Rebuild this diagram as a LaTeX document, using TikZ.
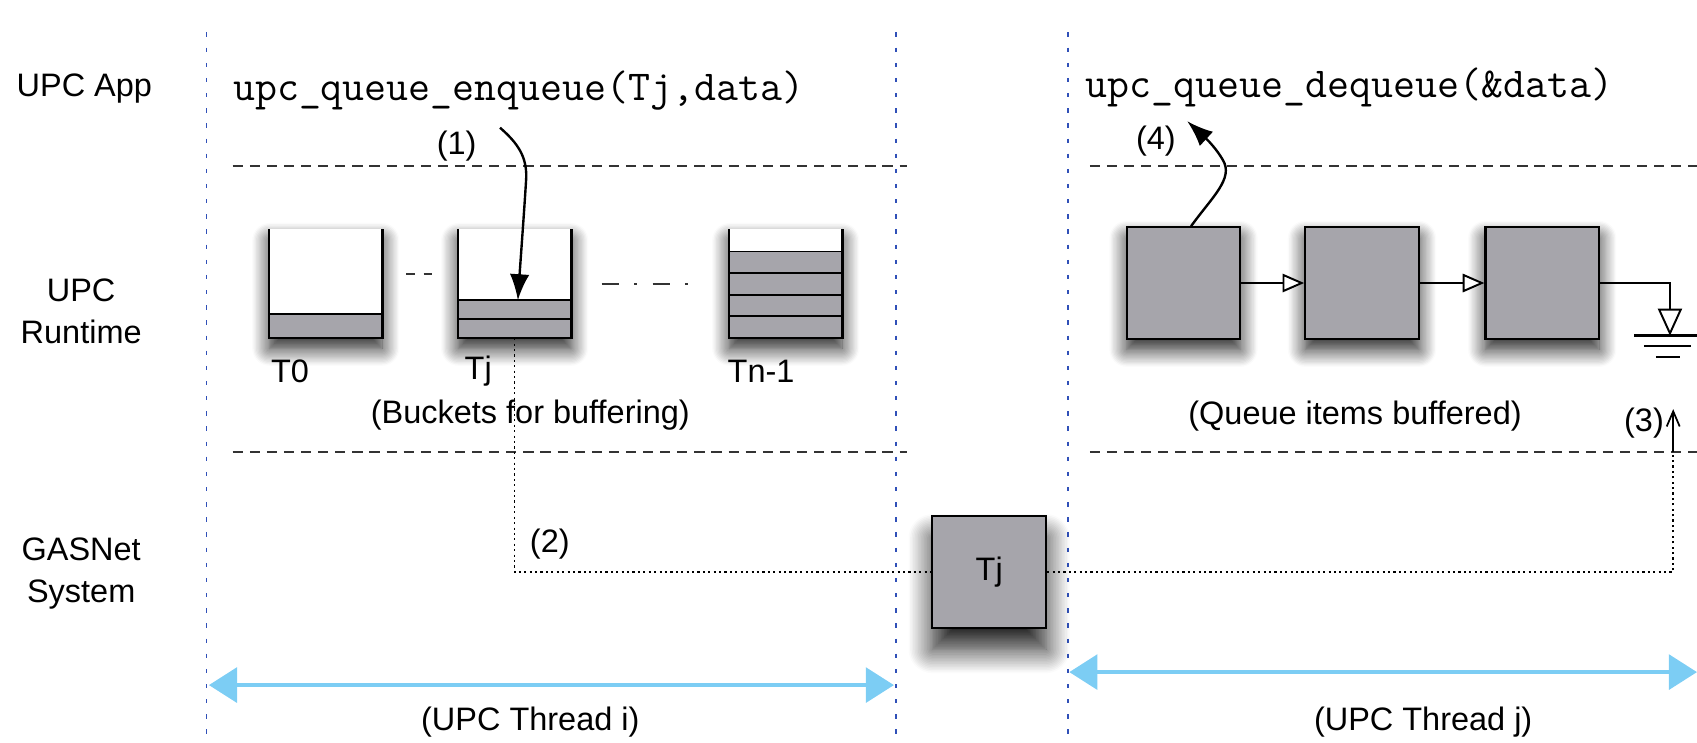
\documentclass[tikz,border=0pt]{standalone}
\usepackage{fontspec}
\setmainfont{Liberation Sans}
\usetikzlibrary{arrows.meta,shadows.blur,calc}
\definecolor{boxgray}{HTML}{A6A5AB}
\definecolor{threadblue}{HTML}{7CCDF4}
\definecolor{sepblue}{HTML}{3050B8}
\begin{document}
\begin{tikzpicture}[x=0.5pt,y=-0.5pt,
  lbl/.style={font=\fontsize{15}{19.5}\selectfont, inner sep=0pt},
  code/.style={font=\ttfamily\fontsize{19.7}{20}\selectfont, inner sep=0pt, anchor=west},
  sep/.style={sepblue, line width=0.7pt, dash pattern=on 2pt off 5pt},
  layer/.style={black!80, line width=1pt, dash pattern=on 4.7pt off 3.2pt},
  shade/.style={blur shadow={shadow xshift=0pt, shadow yshift=-5pt, shadow blur radius=8pt, shadow blur steps=14, shadow opacity=90}},
  bigshade/.style={blur shadow={shadow xshift=0pt, shadow yshift=-10pt, shadow blur radius=11pt, shadow blur steps=16, shadow opacity=90}},
  bucket/.style={minimum width=52pt, minimum height=50pt, inner sep=0pt, fill=white, shade},
  qbox/.style={draw, line width=1pt, fill=boxgray, minimum width=52.5pt, minimum height=51.5pt, inner sep=0pt},
  item/.style={draw, line width=0.9pt, fill=boxgray},
  wall/.style={line width=1.1pt},
  bigarrow/.style={-{Latex[length=12pt,width=9pt]}, line width=1.1pt},
  thread/.style={threadblue, line width=2pt, {Triangle[length=13pt,width=16pt]}-{Triangle[length=13pt,width=16pt]}},
  path2/.style={line width=0.8pt, dash pattern=on 1pt off 1.5pt},
  qarrow/.style={line width=0.9pt, -{Triangle[open,length=10pt,width=8.5pt,fill=white]}},
]
\useasboundingbox (0,0) rectangle (1568,686);

% separators
\draw[sep] (191,30) -- (191,686);
\draw[sep] (828,30) -- (828,686);
\draw[sep] (987,30) -- (987,686);

% layer lines
\draw[layer] (215,153) -- (838,153);
\draw[layer] (1007,153) -- (1568,153);
\draw[layer] (215,418) -- (838,418);
\draw[layer] (1007,418) -- (1568,418);

% row labels
\node[lbl, anchor=west] (app) at (15,82) {UPC App};
\node[lbl, align=center] (rt) at (75,288) {UPC\\Runtime};
\node[lbl, align=center] (gas) at (75,530) {GASNet\\System};

% code
\node[code] (enq) at (215,84) {upc\_queue\_enqueue(Tj,data)};
\node[code] (deq) at (1003,81) {upc\_queue\_dequeue(\&data)};

% buckets
\node[bucket] (b0) at (301,262) {};
\node[bucket] (bj) at (475.5,262) {};
\node[bucket] (bn) at (726,262) {};

\draw[item] (b0.south west) rectangle ($(b0.south east)+(0,-22)$);
\draw[item] (bj.south west) rectangle ($(bj.south east)+(0,-17.5)$);
\draw[item] ($(bj.south west)+(0,-17.5)$) rectangle ($(bj.south east)+(0,-35)$);
\foreach \k in {0,1,2,3}{
  \draw[item] ($(bn.south west)+(0,-20*\k)$) rectangle ($(bn.south east)+(0,-20*\k-20)$);
}
\foreach \b in {b0,bj,bn}{
  \draw[wall] (\b.north west) -- (\b.south west) -- (\b.south east) -- (\b.north east);
}
\draw[black!80, line width=0.9pt, dash pattern=on 4pt off 4pt] (b0.east) ++(22,-9) -- ($(bj.west)+(-18,-9)$);
\draw[black!80, line width=0.9pt, dash pattern=on 8pt off 7pt on 1.5pt off 7pt] ($(bj.east)+(28,0)$) -- ($(bn.west)+(-24,0)$);

\node[lbl, anchor=west] (t0) at (250,343) {T0};
\node[lbl, anchor=west] (tj) at (429,343) {Tj};
\node[lbl, anchor=west] (tn) at (672,343) {Tn-1};
\node[lbl] (bcap) at (490,384) {(Buckets for buffering)};

% queue items
\node[qbox, shade] (q1) at (1093.5,261.5) {};
\node[qbox, shade] (q2) at (1258.5,261.5) {};
\node[qbox, shade] (q3) at (1425,261.5) {};
\draw[qarrow] (q1.east) -- (q2.west);
\draw[qarrow] (q2.east) -- (q3.west);
\coordinate (gnd) at (1543,286);
\draw[line width=0.9pt] (q3.east) -| (gnd);
\draw[line width=0.9pt, fill=white] (1533,286) -- (1553,286) -- (1543,308) -- cycle;
\draw[line width=1pt] (1510,310) -- (1568,310);
\draw[line width=1pt] (1519,320) -- (1562,320);
\draw[line width=1pt] (1530,330) -- (1552,330);
\node[lbl] (qcap) at (1252,384) {(Queue items buffered)};

% GASNet box
\node[qbox, bigshade, font=\fontsize{15}{18}\selectfont] (tjb) at (914,528.5) {Tj};

% path (2) and (3)
\coordinate (c3) at (1546,418);
\coordinate (c3t) at (1546,378);
\draw[path2] (bj.south) |- (tjb.west);
\draw[path2] (tjb.east) -| (c3);
\draw[line width=0.8pt, -{Straight Barb[length=7pt,width=6pt]}] (c3) -- (c3t);
\node[lbl] (l2) at (508,503) {(2)};
\node[lbl] (l3) at (1519,391) {(3)};

% arrow (1)
\coordinate (a1s) at (462,118);
\coordinate (a1e) at ($(bj.south)+(3,-35)$);
\draw[bigarrow] (a1s) .. controls (478,132) and (488,145) .. (486,168) .. controls (484,200) and (481,240) .. (a1e);
\node[lbl] (l1) at (422,135) {(1)};

% arrow (4)
\coordinate (a4e) at (1097,112);
\draw[bigarrow] ($(q1.north)+(7,0)$) .. controls (1120,182) and (1140,165) .. (1130,148) .. controls (1122,134) and (1110,124) .. (a4e);
\node[lbl] (l4) at (1068,130) {(4)};

% thread arrows
\draw[thread] (193,633) -- (826,633);
\draw[thread] (988,621) -- (1568,621);
\node[lbl] (thi) at (490,667) {(UPC Thread i)};
\node[lbl] (thj) at (1315,667) {(UPC Thread j)};
\end{tikzpicture}
\end{document}
